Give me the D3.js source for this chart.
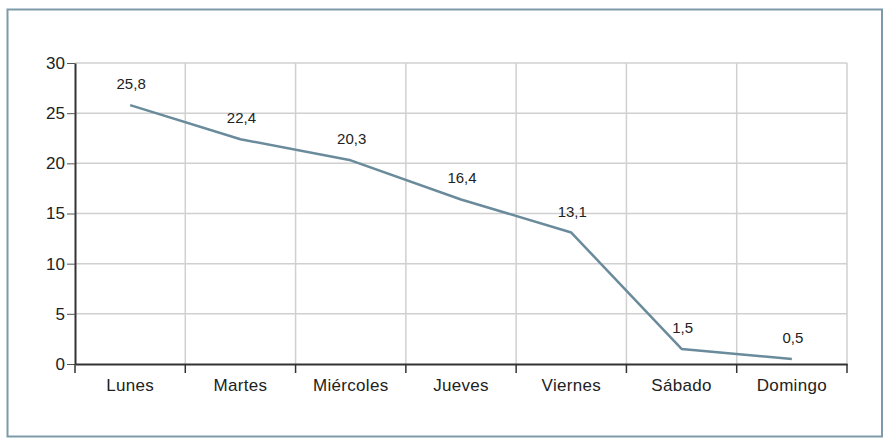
<!DOCTYPE html>
<html>
<head>
<meta charset="utf-8">
<script src="https://cdn.jsdelivr.net/npm/d3@7"></script>
<style>
  html, body { margin: 0; padding: 0; background: #fff; }
  svg { display: block; }
  text { font-family: "Liberation Sans", Arial, Helvetica, sans-serif; fill: #222; }
</style>
</head>
<body>
<svg id="chart" width="884" height="438"></svg>
<script>
// Días de la semana y porcentaje correspondiente
const dias = ["Lunes", "Martes", "Miércoles", "Jueves", "Viernes", "Sábado", "Domingo"];
const valores = [25.8, 22.4, 20.3, 16.4, 13.1, 1.5, 0.5];
const ticksY = [0, 5, 10, 15, 20, 25, 30];

const W = 884, H = 438;
const margin = { left: 75, right: 37, top: 63, bottom: 74 };

const svg = d3.select("#chart");

// Marco exterior
svg.append("rect")
  .attr("x", 7.5).attr("y", 9.5)
  .attr("width", 874.5).attr("height", 427)
  .attr("fill", "none")
  .attr("stroke", "#7e99a9")
  .attr("stroke-width", 2);

const x = d3.scaleBand()
  .domain(dias)
  .range([margin.left, W - margin.right])
  .padding(0);

const y = d3.scaleLinear()
  .domain([0, 30])
  .range([H - margin.bottom, margin.top]);

const fmt = d3.formatLocale({ decimal: ",", thousands: ".", grouping: [3], currency: ["", "€"] }).format(".1f");

// Cuadrícula
const grid = svg.append("g").attr("stroke", "#d0d0d0").attr("stroke-width", 1.5);
grid.selectAll("line.h")
  .data(ticksY.filter(d => d > 0))
  .join("line")
  .attr("class", "h")
  .attr("x1", x.range()[0]).attr("x2", x.range()[1])
  .attr("y1", d => y(d)).attr("y2", d => y(d));

const bordes = dias.slice(1).map(d => x(d)).concat([x.range()[1]]);
grid.selectAll("line.v")
  .data(bordes)
  .join("line")
  .attr("class", "v")
  .attr("x1", d => d).attr("x2", d => d)
  .attr("y1", y(0)).attr("y2", y(30));

// Eje Y
const ejeY = svg.append("g")
  .attr("transform", `translate(${margin.left},0)`)
  .call(d3.axisLeft(y).tickValues(ticksY).tickSize(8).tickSizeOuter(0).tickPadding(2));
ejeY.select(".domain").attr("stroke", "#333").attr("stroke-width", 2);
ejeY.selectAll(".tick line").attr("stroke", "#555").attr("stroke-width", 1);
ejeY.selectAll(".tick text")
  .style("font-size", "17px")
  .style("font-family", "'Liberation Sans', Arial, sans-serif")
  .attr("fill", "#222");

// Eje X: etiquetas centradas, marcas en los límites de cada banda
const ejeX = svg.append("g")
  .attr("transform", `translate(0,${y(0)})`)
  .call(d3.axisBottom(x).tickSize(0).tickSizeOuter(0).tickPadding(15));
ejeX.select(".domain").attr("stroke", "#333").attr("stroke-width", 2);
ejeX.selectAll(".tick text")
  .style("font-size", "17px")
  .style("letter-spacing", "0.3px")
  .style("font-family", "'Liberation Sans', Arial, sans-serif")
  .attr("fill", "#222");
ejeX.selectAll("line.borde")
  .data([x.range()[0]].concat(bordes))
  .join("line")
  .attr("class", "borde")
  .attr("x1", d => d).attr("x2", d => d)
  .attr("y1", 0).attr("y2", 9)
  .attr("stroke", "#333").attr("stroke-width", 1.5);

// Línea de datos
const linea = d3.line()
  .x((d, i) => x(dias[i]) + x.bandwidth() / 2)
  .y(d => y(d));

svg.append("path")
  .datum(valores)
  .attr("d", linea)
  .attr("fill", "none")
  .attr("stroke", "#6a8b9b")
  .attr("stroke-width", 2.5)
  .attr("stroke-linejoin", "round");

// Etiquetas de valor
svg.append("g")
  .selectAll("text")
  .data(valores)
  .join("text")
  .attr("x", (d, i) => x(dias[i]) + x.bandwidth() / 2 + 1)
  .attr("y", d => y(d) - 16)
  .attr("text-anchor", "middle")
  .style("font-size", "15px")
  .text(d => fmt(d));
</script>
</body>
</html>
